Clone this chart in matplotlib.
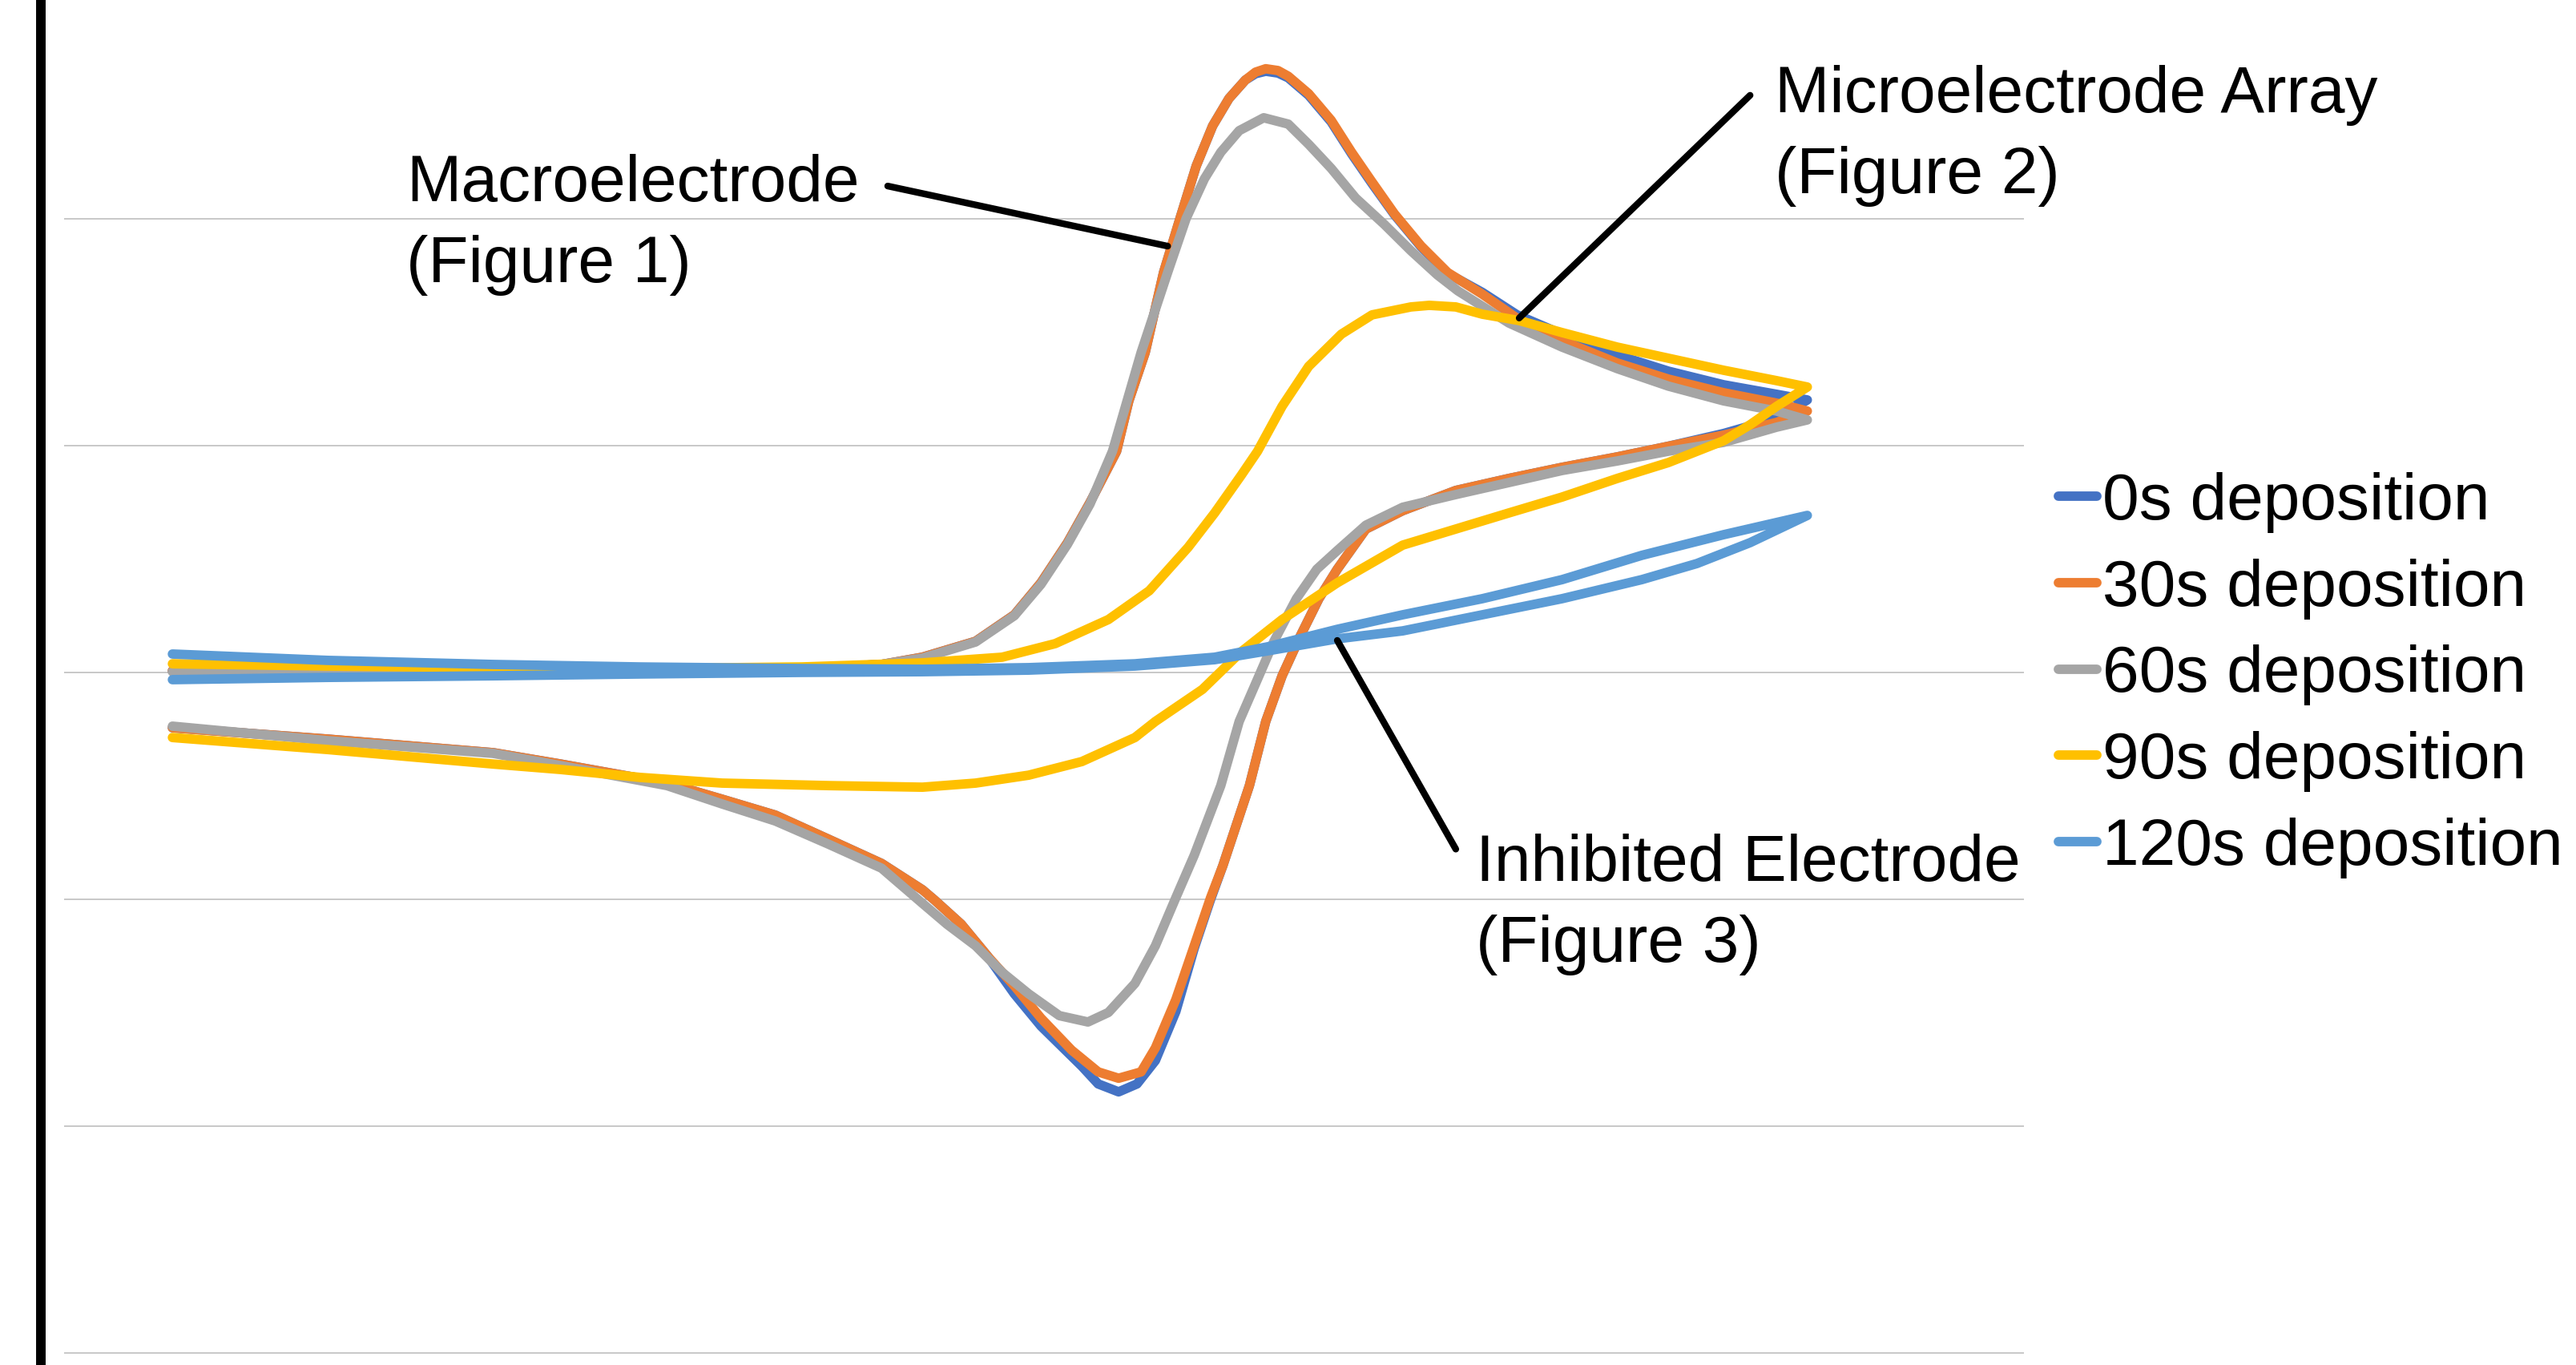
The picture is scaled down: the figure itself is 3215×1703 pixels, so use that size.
import matplotlib
matplotlib.use('Agg')
import matplotlib.pyplot as plt
from matplotlib.lines import Line2D

plt.rcParams['font.family'] = ['Liberation Sans', 'DejaVu Sans']

labels = ['0s deposition', '30s deposition', '60s deposition', '90s deposition', '120s deposition']
colors = ['#4472C4', '#ED7D31', '#A5A5A5', '#FFC000', '#5B9BD5']

# Potential (mV) and current (uA): forward sweep followed by reverse sweep
e_0s = [-200, -88, 29, 108, 147, 167, 193, 212, 225, 238, 249, 262, 268, 276, 285, 293, 301, 309, 317, 325,
        330, 335, 341, 346, 356, 367, 377, 387, 398, 411, 424, 441, 458, 480, 507, 532, 559, 585, 600,
        585, 559, 532, 507, 480, 454, 428, 402, 384, 370, 361, 352, 343, 335, 327, 314, 308, 300, 291, 281,
        272, 263, 253, 245, 225, 212, 199, 186, 173, 167, 147, 121, 95, 69, 42, -10, -43, -124, -200]
i_0s = [0.06, 0.02, 0.06, 0.16, 0.34, 0.66, 1.36, 2.53, 3.94, 5.71, 7.48, 9.74, 11.96, 14.09, 17.62, 19.99,
        22.32, 24.08, 25.29, 26.10, 26.38, 26.49, 26.41, 26.20, 25.43, 24.26, 22.85, 21.54, 20.16, 18.75, 17.58,
        16.74, 15.75, 14.90, 13.98, 13.27, 12.67, 12.25, 12.00,
        11.19, 10.52, 9.96, 9.49, 9.03, 8.54, 8.01, 7.12, 6.31, 4.54, 3.24, 1.61, -0.16, -2.17, -5.00, -8.53,
        -10.02, -12.17, -14.96, -17.12, -18.15, -18.50, -18.15, -17.37, -15.60, -14.18, -12.53, -11.11, -10.05,
        -9.59, -8.43, -7.36, -6.30, -5.60, -4.89, -4.05, -3.55, -2.95, -2.45]

e_30s = [-200, -88, 29, 108, 147, 167, 193, 212, 225, 238, 249, 262, 268, 276, 285, 293, 301, 309, 317, 325,
         330, 335, 341, 346, 356, 367, 377, 387, 398, 411, 424, 441, 458, 480, 507, 532, 559, 585, 600,
         585, 559, 532, 507, 480, 454, 428, 402, 384, 370, 361, 352, 343, 335, 327, 314, 308, 300, 291, 281,
         274, 263, 253, 240, 225, 212, 199, 186, 173, 167, 147, 121, 95, 69, 42, -10, -43, -124, -200]
i_30s = [0.06, 0.02, 0.06, 0.16, 0.34, 0.66, 1.36, 2.53, 3.94, 5.71, 7.48, 9.74, 11.96, 14.09, 17.62, 19.99,
         22.32, 24.08, 25.29, 26.10, 26.45, 26.60, 26.52, 26.27, 25.50, 24.33, 22.92, 21.61, 20.20, 18.79, 17.62,
         16.66, 15.60, 14.61, 13.63, 12.92, 12.32, 11.86, 11.51,
         11.01, 10.45, 9.96, 9.49, 9.03, 8.54, 8.01, 7.12, 6.31, 4.54, 3.24, 1.61, -0.16, -2.17, -5.00, -8.53,
         -9.94, -12.06, -14.43, -16.56, -17.62, -17.90, -17.62, -16.66, -15.25, -13.83, -12.53, -11.11, -10.05,
         -9.59, -8.43, -7.36, -6.30, -5.60, -4.89, -4.05, -3.55, -2.95, -2.45]

e_60s = [-200, -88, 29, 108, 147, 167, 193, 212, 225, 238, 249, 260, 274, 287, 296, 305, 313, 322, 334, 346,
         356, 367, 379, 393, 406, 419, 429, 454, 480, 507, 532, 559, 585, 600,
         585, 559, 532, 507, 480, 454, 428, 402, 384, 370, 360, 350, 339, 330, 322, 313, 300, 291, 281, 271,
         258, 248, 234, 219, 206, 193, 179, 167, 147, 121, 95, 69, 42, -10, -43, -124, -200]
i_60s = [0.02, 0.02, 0.06, 0.16, 0.34, 0.62, 1.33, 2.49, 3.87, 5.64, 7.41, 9.74, 14.09, 17.62, 19.99, 21.75,
         22.92, 23.87, 24.44, 24.16, 23.27, 22.21, 20.90, 19.74, 18.58, 17.51, 16.81, 15.39, 14.33, 13.38, 12.61,
         11.96, 11.51, 11.12,
         10.80, 10.13, 9.74, 9.31, 8.89, 8.36, 7.83, 7.27, 6.48, 5.36, 4.54, 3.24, 1.36, -0.51, -2.17, -5.00,
         -8.07, -9.94, -12.06, -13.72, -15.00, -15.42, -15.14, -14.18, -13.23, -12.06, -11.11, -10.19, -8.64,
         -7.58, -6.56, -5.81, -5.00, -4.12, -3.58, -3.02, -2.38]

e_90s = [-200, -124, -43, 29, 108, 167, 206, 232, 258, 278, 297, 310, 323, 331, 343, 356, 372, 387, 406, 415,
         428, 441, 459, 480, 507, 532, 559, 585, 600,
         585, 572, 559, 532, 507, 480, 454, 428, 402, 370, 343, 323, 304, 281, 271, 245, 219, 193, 167, 121, 69,
         29, -10, -43, -124, -200]
i_90s = [0.37, 0.27, 0.20, 0.16, 0.23, 0.41, 0.66, 1.26, 2.32, 3.59, 5.50, 7.02, 8.68, 9.74, 11.72, 13.48,
         14.90, 15.75, 16.10, 16.17, 16.10, 15.78, 15.50, 14.97, 14.33, 13.84, 13.31, 12.85, 12.57,
         11.72, 10.91, 10.20, 9.24, 8.54, 7.72, 7.02, 6.31, 5.60, 3.94, 2.32, 0.90, -0.76, -2.17, -2.88, -3.94,
         -4.54, -4.89, -5.07, -5.00, -4.89, -4.64, -4.29, -4.05, -3.41, -2.88]

e_120s = [-200, -124, -43, 29, 108, 167, 219, 271, 310, 336, 370, 402, 441, 480, 519, 559, 600,
          572, 546, 519, 480, 441, 402, 370, 336, 310, 271, 219, 167, 108, 29, -43, -124, -200]
i_120s = [0.80, 0.52, 0.34, 0.23, 0.16, 0.13, 0.20, 0.37, 0.66, 1.12, 1.89, 2.53, 3.24, 4.08, 5.15, 6.06, 6.91,
          5.71, 4.79, 4.08, 3.24, 2.53, 1.82, 1.47, 0.94, 0.55, 0.27, 0.09, 0.02, -0.01, -0.08, -0.16, -0.23, -0.33]

series_e = [e_0s, e_30s, e_60s, e_90s, e_120s]
series_i = [i_0s, i_30s, i_60s, i_90s, i_120s]

grid_values = [-30, -20, -10, 0, 10, 20]

W, H = 3215, 1703
fig = plt.figure(figsize=(W / 100, H / 100), dpi=100)
ax = fig.add_axes([80 / W, 0, (2526 - 80) / W, 1])

for e, i, c, lab in zip(series_e, series_i, colors, labels):
    ax.plot(e, i, color=c, lw=8.5, label=lab, solid_capstyle='round', solid_joinstyle='round')

ax.set_xlim(-253, 706)
ax.set_ylim(-30.54, 29.63)
ax.set_yticks(grid_values)
ax.set_xticks([])
ax.yaxis.grid(True, color='#C4C4C4', lw=1.3)
ax.set_axisbelow(True)
ax.tick_params(left=False, labelleft=False, bottom=False, labelbottom=False)
for s in ax.spines.values():
    s.set_visible(False)

# thick black vertical axis line at the far left
fig.add_artist(Line2D([51 / W, 51 / W], [0, 1], transform=fig.transFigure, color='black', lw=8.6))

fs = 59
ls = 1.42
# va='baseline' aligns the baseline of the last line of a multi-line text
ax.text(-85.6, 17.20, 'Macroelectrode\n(Figure 1)', fontsize=fs, ha='left', va='baseline', linespacing=ls)
ax.text(584, 21.12, 'Microelectrode Array\n(Figure 2)', fontsize=fs, ha='left', va='baseline', linespacing=ls)
ax.text(438, -12.77, 'Inhibited Electrode\n(Figure 3)', fontsize=fs, ha='left', va='baseline', linespacing=ls)

lead = dict(arrowstyle='-', lw=6.0, color='black', shrinkA=0, shrinkB=0)
ax.annotate('', xy=(287, 18.78), xytext=(150, 21.43), arrowprops=lead)
ax.annotate('', xy=(459, 15.61), xytext=(572, 25.43), arrowprops=lead)
ax.annotate('', xy=(370, 1.4), xytext=(428, -7.80), arrowprops=lead)

leg = ax.legend(loc='upper left', bbox_to_anchor=(2569 / W, 1 - 589 / H), bbox_transform=fig.transFigure,
                frameon=False, fontsize=fs, handlelength=0.586, handletextpad=0.085,
                labelspacing=0.387, borderpad=0, borderaxespad=0)

fig.savefig('out.png', dpi=100, facecolor='white')
